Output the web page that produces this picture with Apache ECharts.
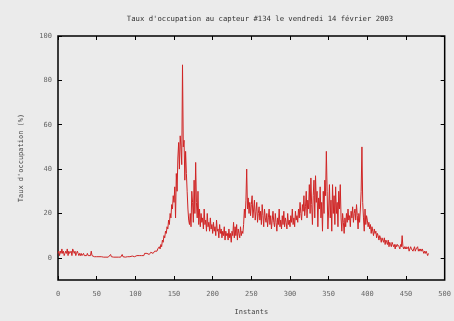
<!DOCTYPE html>
<html>
<head>
<meta charset="utf-8">
<script src="https://cdn.jsdelivr.net/npm/echarts@6/dist/echarts.min.js"></script>
<style>
html,body{margin:0;padding:0;background:#ebebeb;}
#c{width:454px;height:321px;}
</style>
</head>
<body>
<div id="c"></div>
<script>
const titleText = "Taux d'occupation au capteur #134 le vendredi 14 février 2003";
const xName = "Instants";
const yName = "Taux d'occupation (%)";
const xTicks = [0, 50, 100, 150, 200, 250, 300, 350, 400, 450, 500];
const yTicks = [0, 20, 40, 60, 80, 100];
const startInstant = 0;
const occupation = [
2, 3, 1, 3, 2, 4, 2, 3, 1, 2,
3, 2, 4, 1, 3, 2, 2, 3, 1, 4,
3, 2, 3, 1, 2, 3, 2, 1, 2, 1,
2, 1, 1, 2, 1, 1, 0.5, 1, 2, 1,
1, 0.5, 1, 3, 1, 0.5, 1, 0.5, 0.5, 1,
0.5, 0.5, 0.3, 0.5, 0.3, 0.5, 0.5, 0.3, 0.5, 0.3,
0.3, 0.5, 0.3, 0.3, 0.5, 0.3, 0.3, 0.5, 1.5, 0.5,
0.3, 0.5, 0.3, 0.3, 0.5, 0.3, 0.3, 0.5, 0.3, 0.3,
0.5, 0.3, 0.3, 1.5, 0.5, 0.3, 0.5, 0.3, 0.5, 0.3,
0.5, 0.5, 0.3, 0.5, 0.8, 0.5, 0.8, 0.5, 1, 0.5,
1, 0.8, 1, 0.5, 1.5, 1, 0.8, 1.5, 1, 1.2,
1.5, 1, 2, 1.2, 1.5, 2, 1.5, 2.5, 1.5, 2,
2.5, 2, 3, 2, 2.5, 3, 2.5, 3.5, 3, 4,
3.5, 5, 4, 6, 5, 8, 7, 10, 9, 12,
11, 14, 13, 17, 15, 20, 18, 24, 22, 28,
25, 32, 18, 38, 30, 45, 52, 40, 55, 50,
42, 87, 50, 53, 35, 48, 38, 30, 22, 17,
15, 20, 14, 30, 25, 16, 35, 20, 43, 25,
18, 30, 15, 22, 14, 20, 16, 18, 13, 22,
15, 17, 12, 20, 14, 16, 12, 18, 13, 15,
11, 16, 12, 14, 10, 17, 12, 13, 9, 15,
11, 13, 9, 12, 10, 14, 8, 12, 10, 11,
8, 13, 9, 11, 7, 12, 10, 16, 9, 14,
10, 15, 8, 13, 11, 9, 14, 10, 12, 11,
15, 22, 18, 26, 40, 22, 27, 20, 25, 19,
24, 28, 18, 22, 26, 17, 21, 25, 16, 20,
23, 17, 21, 15, 24, 19, 14, 22, 18, 16,
20, 14, 18, 22, 15, 19, 13, 17, 21, 16,
14, 20, 16, 12, 18, 15, 22, 14, 17, 13,
19, 15, 21, 14, 18, 16, 13, 20, 15, 17,
14, 19, 16, 22, 15, 18, 14, 21, 17, 19,
16, 22, 18, 25, 20, 17, 24, 21, 28, 19,
23, 30, 18, 26, 22, 33, 20, 36, 24, 15,
28, 35, 18, 37, 25, 30, 14, 27, 22, 32,
18, 25, 12, 30, 20, 35, 28, 48, 30, 13,
22, 33, 18, 26, 12, 33, 20, 28, 15, 32,
20, 25, 14, 30, 22, 33, 18, 12, 20, 16,
11, 18, 14, 20, 16, 22, 17, 19, 14, 21,
18, 23, 16, 20, 22, 17, 24, 19, 13, 20,
16, 22, 30, 50, 25, 18, 12, 22, 15, 19,
17, 14, 16, 13, 15, 11, 14, 12, 10, 13,
11, 12, 9, 11, 10, 8, 10, 9, 7, 9,
8, 7, 9, 6, 8, 7, 6, 8, 5, 7,
6, 5, 7, 6, 5, 6, 4, 6, 5, 6,
6, 5, 4, 6, 5, 10, 5, 4, 5, 4,
5, 4, 4, 5, 3, 4, 5, 4, 4, 3,
4, 5, 3, 4, 4, 5, 3, 4, 3, 4,
3, 4, 3, 2, 3, 2, 3, 2, 1, 2
];

const seriesData = occupation.map((v, i) => [startInstant + i, v]);
const font = "DejaVu Sans Mono";
const chart = echarts.init(document.getElementById('c'), null, {renderer: 'canvas'});
const tickX = {show: true, inside: true, length: 4, customValues: xTicks, lineStyle: {color: '#000', width: 1}};
const tickY = {show: true, inside: true, length: 4, customValues: yTicks, lineStyle: {color: '#000', width: 1}};
chart.setOption({
  backgroundColor: '#ebebeb',
  animation: false,
  title: {
    text: titleText, left: 255, top: 11, textAlign: 'center',
    textStyle: {fontFamily: font, fontSize: 7.25, fontWeight: 'normal', color: '#333'}
  },
  grid: {left: 58, right: 6, top: 36, bottom: 37, show: true, borderColor: '#000', borderWidth: 1.5, backgroundColor: '#ebebeb'},
  xAxis: [{
    type: 'value', min: 0, max: 500, interval: 50, position: 'bottom',
    name: xName, nameLocation: 'middle', nameGap: 29,
    nameTextStyle: {fontFamily: font, fontSize: 7, color: '#444'},
    axisLine: {show: false, onZero: false}, axisTick: tickX, splitLine: {show: false},
    axisLabel: {fontFamily: font, fontSize: 7, color: '#666', margin: 11, customValues: xTicks}
  }, {
    type: 'value', min: 0, max: 500, interval: 50, position: 'top',
    axisLine: {show: false, onZero: false}, axisTick: tickX, splitLine: {show: false}, axisLabel: {show: false}
  }],
  yAxis: [{
    type: 'value', min: -10, max: 100, interval: 10, position: 'left',
    name: yName, nameLocation: 'middle', nameGap: 33, nameRotate: 90,
    nameTextStyle: {fontFamily: font, fontSize: 7, color: '#444'},
    axisLine: {show: false, onZero: false}, axisTick: tickY, splitLine: {show: false},
    axisLabel: {fontFamily: font, fontSize: 7, color: '#666', margin: 6, customValues: yTicks}
  }, {
    type: 'value', min: -10, max: 100, interval: 10, position: 'right',
    axisLine: {show: false, onZero: false}, axisTick: tickY, splitLine: {show: false}, axisLabel: {show: false}
  }],
  series: [{
    type: 'line', data: seriesData, xAxisIndex: 0, yAxisIndex: 0,
    showSymbol: false, symbol: 'none',
    lineStyle: {color: '#d02525', width: 1}
  }]
});
</script>
</body>
</html>
